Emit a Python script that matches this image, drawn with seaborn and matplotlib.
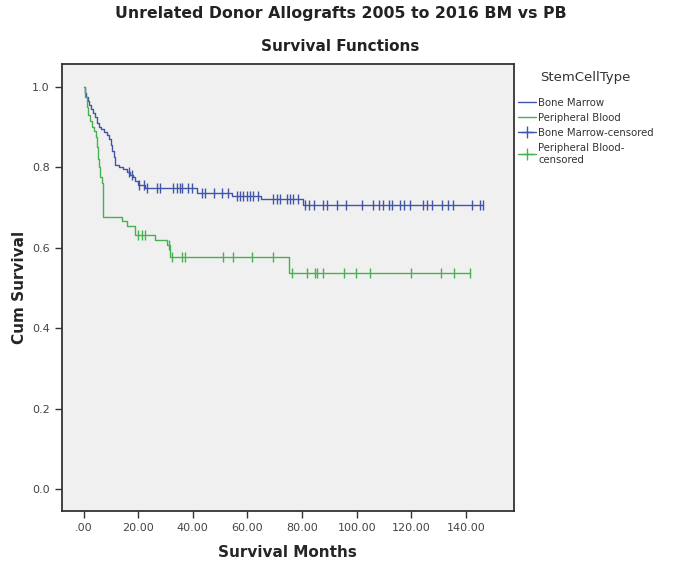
import numpy as np
import pandas as pd
import matplotlib
matplotlib.use("Agg")
import matplotlib.pyplot as plt
from matplotlib.lines import Line2D
import seaborn as sns

# ---- data ----
bm_event_t = [0.0, 0.5, 1.0, 1.5, 2.0, 2.8, 3.5, 4.3, 5.0, 5.8, 6.5, 7.5, 8.5, 9.5, 10.0, 10.5,
              11.0, 11.6, 13.0, 14.5, 15.9, 17.0, 18.2, 19.0, 20.1, 22.5, 41.5, 54.5, 65.0, 80.5]
bm_event_s = [1.0, 0.985, 0.975, 0.965, 0.955, 0.945, 0.935, 0.925, 0.91, 0.90, 0.895, 0.888, 0.880,
              0.870, 0.855, 0.840, 0.825, 0.806, 0.800, 0.795, 0.789, 0.782, 0.775, 0.765, 0.756,
              0.748, 0.737, 0.729, 0.720, 0.707]
bm_censor_t = [16.5, 17.7, 20.3, 22.0, 23.2, 26.9, 28.1, 32.9, 34.2, 35.4, 36.0, 38.4, 39.7, 43.3,
               44.5, 47.6, 50.6, 53.0, 56.1, 57.3, 58.5, 59.8, 61.0, 62.2, 64.0, 69.5, 70.8, 72.0,
               74.4, 75.6, 76.8, 78.7, 81.1, 82.7, 84.2, 87.8, 89.3, 92.9, 96.1, 101.9, 106.1, 108.0,
               109.8, 112.0, 112.8, 115.9, 117.3, 119.5, 124.4, 125.9, 127.5, 131.1, 133.6, 135.4,
               142.1, 145.2, 146.4]

pb_event_t = [0.0, 0.5, 1.2, 1.8, 2.5, 3.2, 3.8, 4.5, 4.9, 5.3, 5.8, 6.1, 6.7, 7.3, 14.0, 15.9,
              18.9, 26.2, 30.5, 31.7, 75.4]
pb_event_s = [1.0, 0.975, 0.95, 0.93, 0.914, 0.90, 0.89, 0.875, 0.85, 0.82, 0.80, 0.775, 0.76,
              0.677, 0.667, 0.655, 0.632, 0.620, 0.607, 0.578, 0.537]
pb_censor_t = [20.1, 21.4, 22.6, 31.2, 32.5, 36.0, 37.2, 50.9, 54.9, 61.6, 69.5, 76.2, 81.7, 84.8,
               85.4, 87.6, 95.4, 99.8, 104.9, 119.8, 130.9, 135.6, 141.5]

groups = ["Bone Marrow", "Peripheral Blood"]
x_ticks = [0, 20, 40, 60, 80, 100, 120, 140]
x_ticklabels = [".00", "20.00", "40.00", "60.00", "80.00", "100.00", "120.00", "140.00"]
y_ticks = [0.0, 0.2, 0.4, 0.6, 0.8, 1.0]
y_ticklabels = ["0.0", "0.2", "0.4", "0.6", "0.8", "1.0"]

colors = {"Bone Marrow": "#4155AB", "Peripheral Blood": "#45B24F"}


def curve_frame(t, s, cens, name):
    t_end = max(cens)
    tt = list(t) + [t_end]
    ss = list(s) + [s[-1]]
    return pd.DataFrame({"t": tt, "s": ss, "grp": name})


def censor_frame(t, s, cens, name):
    t_arr = np.asarray(t)
    idx = np.searchsorted(t_arr, np.asarray(cens), side="right") - 1
    return pd.DataFrame({"t": cens, "s": np.asarray(s)[idx], "grp": name})


curves = pd.concat([curve_frame(bm_event_t, bm_event_s, bm_censor_t, groups[0]),
                    curve_frame(pb_event_t, pb_event_s, pb_censor_t, groups[1])])
cens = pd.concat([censor_frame(bm_event_t, bm_event_s, bm_censor_t, groups[0]),
                  censor_frame(pb_event_t, pb_event_s, pb_censor_t, groups[1])])

sns.set_style("white")
plt.rcParams["font.family"] = ["DejaVu Sans"]

fig = plt.figure(figsize=(6.85, 5.66), dpi=100)
ax = fig.add_axes([0.090, 0.097, 0.660, 0.790])
ax.set_facecolor("#F0F0F0")

for g in groups:
    d = curves[curves.grp == g]
    sns.lineplot(data=d, x="t", y="s", ax=ax, color=colors[g], drawstyle="steps-post",
                 linewidth=1.0, estimator=None, sort=False, legend=False)
    c = cens[cens.grp == g]
    sns.scatterplot(data=c, x="t", y="s", ax=ax, color=colors[g], marker="|", s=45,
                    linewidth=1.0, legend=False, zorder=3)

ax.set_xlim(-8, 157.5)
ax.set_ylim(-0.055, 1.057)
ax.set_xticks(x_ticks)
ax.set_xticklabels(x_ticklabels)
ax.set_yticks(y_ticks)
ax.set_yticklabels(y_ticklabels)
ax.tick_params(axis="both", direction="out", length=5, width=1, color="#333333",
               labelsize=8, labelcolor="#444444", left=True, bottom=True)
for sp in ax.spines.values():
    sp.set_color("#333333")
    sp.set_linewidth(1.3)

ax.set_xlabel("Survival Months", fontsize=11, fontweight="bold", labelpad=9)
ax.set_ylabel("Cum Survival", fontsize=11, fontweight="bold", labelpad=4)

fig.text(0.497, 0.977, "Unrelated Donor Allografts 2005 to 2016 BM vs PB", ha="center",
         va="center", fontsize=11.3, fontweight="bold", color="#222222")
fig.text(0.496, 0.917, "Survival Functions", ha="center", va="center", fontsize=11,
         fontweight="bold", color="#222222")

handles = [
    Line2D([], [], color=colors["Bone Marrow"], lw=1.0),
    Line2D([], [], color=colors["Peripheral Blood"], lw=1.0),
    Line2D([], [], color=colors["Bone Marrow"], lw=1.0, marker="+", markersize=8),
    Line2D([], [], color=colors["Peripheral Blood"], lw=1.0, marker="+", markersize=8),
]
labels = ["Bone Marrow", "Peripheral Blood", "Bone Marrow-censored", "Peripheral Blood-\ncensored"]
leg = fig.legend(handles, labels, title="StemCellType", loc="upper left",
                 bbox_to_anchor=(0.750, 0.882), frameon=False, fontsize=7.3,
                 title_fontsize=9.5, handlelength=1.8, handletextpad=0.2,
                 labelspacing=0.5, borderaxespad=0)
leg.get_title().set_color("#333333")
leg._legend_box.sep = 10
for t in leg.get_texts():
    t.set_color("#333333")

fig.savefig("out.png", dpi=100, facecolor="white")
